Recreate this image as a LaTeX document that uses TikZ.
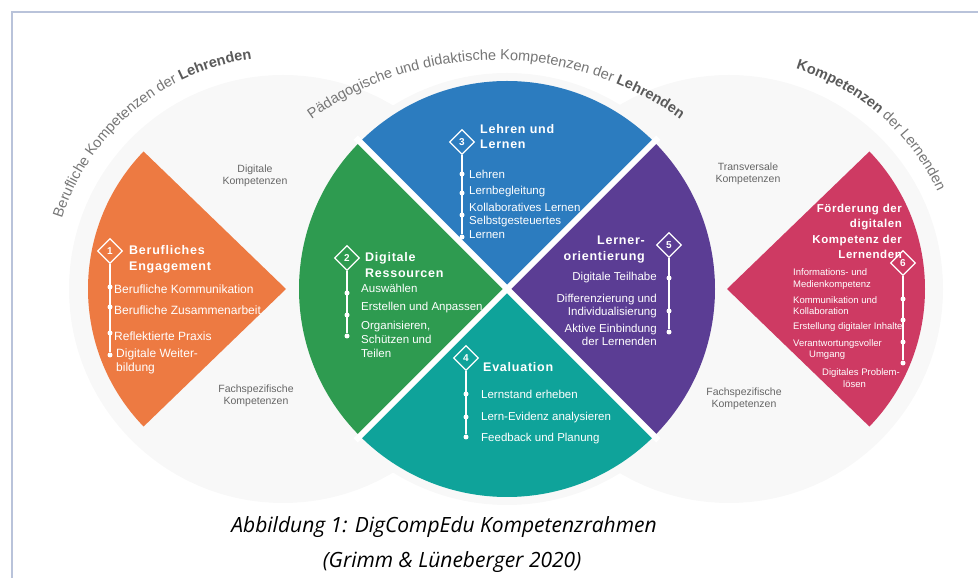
\documentclass[tikz,border=0pt]{standalone}
\usepackage{fontspec}
\setmainfont{Liberation Sans}
\newfontfamily\capfont{Open Sans}
\usepackage{xcolor}
\usepackage{tikz}
\usetikzlibrary{shapes.geometric,decorations.text}

\definecolor{orng}{HTML}{ED7A42}
\definecolor{grn}{HTML}{2E9B50}
\definecolor{blu}{HTML}{2C7CBF}
\definecolor{purp}{HTML}{5B3D94}
\definecolor{tealc}{HTML}{0FA39A}
\definecolor{mgnt}{HTML}{CE3A63}
\definecolor{bgrey}{HTML}{F8F8F8}
\definecolor{arcgray}{HTML}{767676}
\definecolor{arcdark}{HTML}{5A5A5A}
\definecolor{notegray}{HTML}{666666}
\definecolor{framec}{HTML}{B9C3DA}

\newcommand\arcfont{\fontsize{14.5}{17}\selectfont}

\begin{document}
\begin{tikzpicture}
      [ x=1pt, y=1pt,
        num/.style={diamond, draw=white, line width=1.2pt, text=white,
          inner sep=0pt, minimum size=25pt, font=\bfseries\fontsize{10}{10}\selectfont},
        dot/.style={circle, fill=white, inner sep=0pt, minimum size=5pt},
        stem/.style={white, line width=1.2pt},
        head/.style={text=white, inner sep=0pt, align=left,
          font=\bfseries\fontsize{12.5}{15.5}\selectfont\addfontfeatures{LetterSpace=6}},
        item/.style={text=white, inner sep=0pt, align=left,
          font=\fontsize{11.5}{13.5}\selectfont},
        note/.style={text=notegray, inner sep=0pt, align=center,
          font=\fontsize{10.5}{12.5}\selectfont},
        capt/.style={inner sep=0pt, anchor=base,
          font=\capfont\itshape\fontsize{21}{35}\selectfont}
      ]
      \useasboundingbox (0,0) rectangle (978,578);
      \draw[framec, line width=2.5pt] (978,566) -- (12,566) -- (12,0);

      % three background circles
      \fill[bgrey] (283,289) circle[radius=214];
      \fill[bgrey] (507,289) circle[radius=216];
      \fill[bgrey] (729,289) circle[radius=214];

      % middle circle, four quarters
      \fill[blu]   (507,289) -- ++(45:208)  arc[start angle=45,  end angle=135, radius=208] -- cycle;
      \fill[grn]   (507,289) -- ++(135:208) arc[start angle=135, end angle=225, radius=208] -- cycle;
      \fill[tealc] (507,289) -- ++(225:208) arc[start angle=225, end angle=315, radius=208] -- cycle;
      \fill[purp]  (507,289) -- ++(-45:208) arc[start angle=-45, end angle=45,  radius=208] -- cycle;
      \draw[white, line width=6pt] (507,289) ++(45:214) -- ++(225:428);
      \draw[white, line width=6pt] (507,289) ++(135:214) -- ++(-45:428);

      % side wedges
      \fill[orng] (286,289) -- ++(136:198) arc[start angle=136, end angle=224, radius=198] -- cycle;
      \fill[mgnt] (727,289) -- ++(-44:198) arc[start angle=-44, end angle=44, radius=198] -- cycle;

      % curved headings
      \path[decorate, decoration={text along path, text align=center, text color=arcgray,
          text={|\arcfont|Berufliche Kompetenzen der |\arcfont\bfseries\color{arcdark}|Lehrenden}}]
        (283,289) ++(175:232) arc[start angle=175, end angle=85, radius=232];
      \path[decorate, decoration={text along path, text align=center, text color=arcgray,
          text={|\arcfont|Pädagogische und didaktische Kompetenzen der |\arcfont\bfseries\color{arcdark}|Lehrenden}}]
        (496,201) ++(140:317) arc[start angle=140, end angle=40, radius=317];
      \path[decorate, decoration={text along path, text align=center, text color=arcgray,
          text={|\arcfont\bfseries\color{arcdark}|Kompetenzen |\arcfont|der Lernenden}}]
        (729,289) ++(84:230) arc[start angle=84, end angle=14, radius=230];

      % grey labels between the circles
      \node[note] (dk)  at (255,402) {Digitale\\Kompetenzen};
      \node[note] (fkl) at (256,182) {Fachspezifische\\Kompetenzen};
      \node[note] (tk)  at (748,404) {Transversale\\Kompetenzen};
      \node[note] (fkr) at (744,179) {Fachspezifische\\Kompetenzen};

      % 1 -- orange
      \node[num] (d1) at (110,327) {1};
      \node[head, anchor=west] (t1) at (129,318.5) {Berufliches\\Engagement};
      \foreach \y [count=\k] in {291,271,245,223}
        \node[dot] (p1\k) at (110,\y) {};
      \draw[stem] (d1) -- (p14);
      \node[item, anchor=west, font=\fontsize{12}{13.5}\selectfont] (i11) at (114,289)   {Berufliche Kommunikation};
      \node[item, anchor=west, font=\fontsize{12}{13.5}\selectfont] (i12) at (114,268)   {Berufliche Zusammenarbeit};
      \node[item, anchor=west, font=\fontsize{12}{13.5}\selectfont] (i13) at (114,242)   {Reflektierte Praxis};
      \node[item, anchor=west, font=\fontsize{12}{13.5}\selectfont] (i14) at (116,216.5) {Digitale Weiter-\\bildung};

      % 2 -- green
      \node[num] (d2) at (347,320) {2};
      \node[head, anchor=west] (t2) at (365,313) {Digitale\\Ressourcen};
      \foreach \y [count=\k] in {285,263,242}
        \node[dot] (p2\k) at (347,\y) {};
      \draw[stem] (d2) -- (p23);
      \node[item, anchor=west] (i21) at (361,290) {Auswählen};
      \node[item, anchor=west] (i22) at (361,270) {Erstellen und Anpassen};
      \node[item, anchor=west, font=\fontsize{11.5}{14}\selectfont] (i23) at (361,239) {Organisieren,\\Schützen und\\Teilen};

      % 3 -- blue
      \node[num] (d3) at (462,436) {3};
      \node[head, anchor=west] (t3) at (480,441.5) {Lehren und\\Lernen};
      \foreach \y [count=\k] in {404,385,363,341}
        \node[dot] (p3\k) at (462,\y) {};
      \draw[stem] (d3) -- (p34);
      \node[item, anchor=west] (i31) at (469,404)   {Lehren};
      \node[item, anchor=west] (i32) at (469,386)   {Lernbegleitung};
      \node[item, anchor=west] (i33) at (469,371)   {Kollaboratives Lernen};
      \node[item, anchor=west] (i34) at (469,350.5) {Selbstgesteuertes\\Lernen};

      % 4 -- teal
      \node[num] (d4) at (466,220) {4};
      \node[head, anchor=west] (t4) at (483,211) {Evaluation};
      \foreach \y [count=\k] in {184,161,141}
        \node[dot] (p4\k) at (466,\y) {};
      \draw[stem] (d4) -- (p43);
      \node[item, anchor=west] (i41) at (481,184) {Lernstand erheben};
      \node[item, anchor=west] (i42) at (481,160) {Lern-Evidenz analysieren};
      \node[item, anchor=west] (i43) at (481,139) {Feedback und Planung};

      % 5 -- purple
      \node[num] (d5) at (669,333) {5};
      \node[head, anchor=east, align=right] (t5) at (645,328.5) {Lerner-\\orientierung};
      \foreach \y [count=\k] in {300,267,246}
        \node[dot] (p5\k) at (669,\y) {};
      \draw[stem] (d5) -- (p53);
      \node[item, anchor=east, align=right] (i51) at (657,300) {Digitale Teilhabe};
      \node[item, anchor=east, align=right] (i52) at (657,272) {Differenzierung und\\Individualisierung};
      \node[item, anchor=east, align=right] (i53) at (657,243) {Aktive Einbindung\\der Lernenden};

      % 6 -- magenta
      \node[head, anchor=east, align=right, font=\bfseries\fontsize{11.5}{15.5}\selectfont\addfontfeatures{LetterSpace=5}]
        (t6) at (902,346.5) {Förderung der\\digitalen\\Kompetenz der\\Lernenden};
      \node[num] (d6) at (903,315) {6};
      \foreach \y [count=\k] in {279,258,236,215}
        \node[dot] (p6\k) at (903,\y) {};
      \draw[stem] (d6) -- (p64);
      \node[item, anchor=west, font=\fontsize{9.5}{11.5}\selectfont] (i61) at (793,299)   {Informations- und\\Medienkompetenz};
      \node[item, anchor=west, font=\fontsize{9.5}{11.5}\selectfont] (i62) at (793,272.5) {Kommunikation und\\Kollaboration};
      \node[item, anchor=west, font=\fontsize{9.5}{11.5}\selectfont] (i63) at (793,251)   {Erstellung digitaler Inhalte};
      \node[item, anchor=west, font=\fontsize{9.5}{11.5}\selectfont] (i64) at (793,228.5) {Verantwortungsvoller\\\hspace*{16pt}Umgang};
      \node[item, anchor=west, font=\fontsize{9.5}{11.5}\selectfont] (i65) at (822,200)   {Digitales Problem-\\\hspace*{21pt}lösen};

      % caption
      \node[capt] (cap1) at (444,45) {Abbildung 1: DigCompEdu Kompetenzrahmen};
      \node[capt] (cap2) at (452,10) {(Grimm \& Lüneberger 2020)};
    \end{tikzpicture}
\end{document}
